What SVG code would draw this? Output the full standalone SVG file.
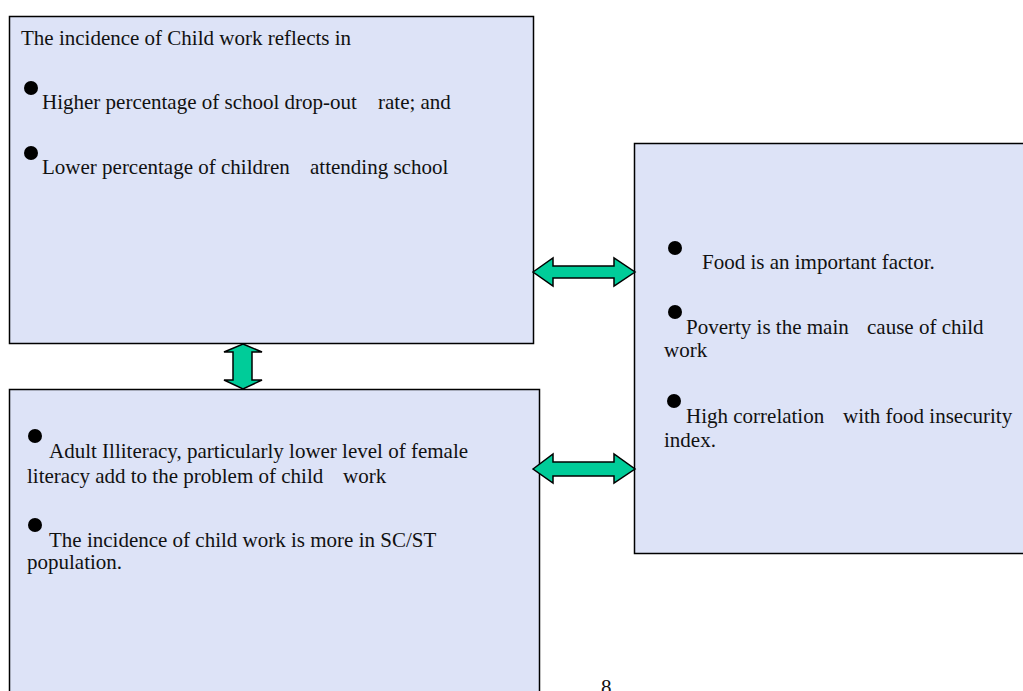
<svg xmlns="http://www.w3.org/2000/svg" width="1023" height="691" viewBox="0 0 1023 691">
<style>
.box{fill:#dde3f7;stroke:#000;stroke-width:1.5}
.t{font-family:"Liberation Serif","Times New Roman",serif;font-size:21px;fill:#111;white-space:pre}
.b{fill:#000}
.arr{fill:#00cc99;stroke:#000;stroke-width:1.5;stroke-linejoin:miter}
</style>
<rect width="1023" height="691" fill="#fff"/>
<g id="node-reflects">
<rect class="box" x="9.5" y="16.5" width="524" height="327"/>
<text class="t" x="21" y="45">The incidence of Child work reflects in</text>
<circle class="b" cx="31" cy="88" r="7"/>
<text class="t" y="109"><tspan x="42">Higher percentage of school drop-out</tspan><tspan x="378">rate; and</tspan></text>
<circle class="b" cx="31" cy="153" r="7"/>
<text class="t" y="174"><tspan x="42">Lower percentage of children</tspan><tspan x="310">attending school</tspan></text>
</g>
<g id="node-food">
<rect class="box" x="634.5" y="143.5" width="395" height="410"/>
<circle class="b" cx="675" cy="248" r="7"/>
<text class="t" x="702" y="269">Food is an important factor.</text>
<circle class="b" cx="675" cy="312" r="7"/>
<text class="t" y="334"><tspan x="686">Poverty is the main</tspan><tspan x="867">cause of child</tspan></text>
<text class="t" x="664" y="357">work</text>
<circle class="b" cx="674" cy="401" r="7"/>
<text class="t" y="423"><tspan x="686">High correlation</tspan><tspan x="843">with food insecurity</tspan></text>
<text class="t" x="664" y="447">index.</text>
</g>
<g id="node-illiteracy">
<rect class="box" x="9.5" y="389.5" width="530" height="320"/>
<circle class="b" cx="35" cy="436" r="7"/>
<text class="t" x="49" y="458">Adult Illiteracy, particularly lower level of female</text>
<text class="t" y="483"><tspan x="27">literacy add to the problem of child</tspan><tspan x="343">work</tspan></text>
<circle class="b" cx="35" cy="525" r="7"/>
<text class="t" x="49" y="547">The incidence of child work is more in SC/ST</text>
<text class="t" x="27" y="569">population.</text>
</g>
<g id="connectors">
<path class="arr" d="M533,272 L553,258 L553,266 L614,266 L614,258 L635,272 L614,286 L614,278 L553,278 L553,286 Z"/>
<path class="arr" d="M533,469 L553,454 L553,462 L614,462 L614,454 L635,469 L614,483 L614,476 L553,476 L553,483 Z"/>
<path class="arr" d="M243,344 L262,352 L252,352 L252,380 L262,380 L243,389 L224,380 L233,380 L233,352 L224,352 Z"/>
</g>
<text class="t" x="601" y="694">8</text>
</svg>
